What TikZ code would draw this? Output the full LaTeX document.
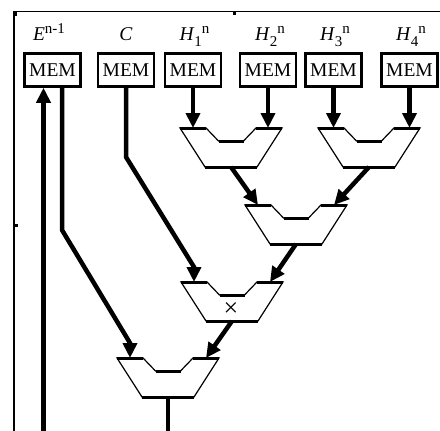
\documentclass[tikz,border=0pt]{standalone}
\usepackage{fontspec}
\setmainfont{Liberation Serif}
\usetikzlibrary{arrows.meta}
\usetikzlibrary{positioning}

\newcommand{\lbsub}[1]{\raisebox{-6pt}{\fontsize{15}{16}\selectfont #1}}
\newcommand{\lbsup}[1]{\raisebox{7pt}{\fontsize{15}{16}\selectfont #1}}

\tikzset{
  mem/.style={draw,line width=2.5pt,minimum width=56pt,minimum height=33pt,inner sep=0pt,font=\fontsize{19.5}{22}\selectfont},
  lbl/.style={anchor=base,inner sep=0pt,font=\fontsize{19.5}{22}\selectfont},
  arr/.style={line width=4.5pt,-{Triangle[length=15pt,width=14pt]}},
  wire/.style={line width=4.5pt},
  pics/adder/.style={code={
    \draw[line width=1.2pt] (-51,0) -- (-25,0) -- (-12.5,13) -- (12.5,13) -- (25,0) -- (51,0) -- (26,39) -- (-26,39) -- cycle;
    \draw[line width=3pt] (-51,0) -- (-25,0) (-12.5,13) -- (12.5,13) (25,0) -- (51,0) (-26,39) -- (26,39);
    \coordinate (-l) at (-38,0);
    \coordinate (-r) at (38,0);
    \coordinate (-t) at (0,0);
    \coordinate (-o) at (0,39);
  }}
}

\begin{document}
\begin{tikzpicture}[x=1pt,y=-1pt]
\useasboundingbox (0,0) rectangle (440,431);
% frame
\draw[line width=1.2pt] (14,431) -- (14,11.5) -- (440,11.5);
\fill (12.5,10.5) rectangle (16.5,15.5);
\fill (232.5,11.5) rectangle (235.5,15);
\fill (14,223.5) rectangle (17.5,226.5);

\node[mem] (mE) at (52.5,70) {MEM};
\node[mem] (mC) at (126,70) {MEM};
\node[mem] (mH1) at (193,70) {MEM};
\node[mem] (mH2) at (268,70) {MEM};
\node[mem] (mH3) at (333.5,70) {MEM};
\node[mem] (mH4) at (409.5,70) {MEM};

\node[lbl] (lE) at (49,40) {\textit{E}\lbsup{n-1}};
\node[lbl] (lC) at (126,40) {\textit{C}};
\node[lbl] (lH1) at (194.5,40) {\textit{H}\lbsub{1}\lbsup{n}};
\node[lbl] (lH2) at (270,40) {\textit{H}\lbsub{2}\lbsup{n}};
\node[lbl] (lH3) at (335,40) {\textit{H}\lbsub{3}\lbsup{n}};
\node[lbl] (lH4) at (411,40) {\textit{H}\lbsub{4}\lbsup{n}};

\pic (a1) at (231,128) {adder};
\pic (a2) at (369,128) {adder};
\pic (a3) at (296,205) {adder};
\pic (mul) at (232,282) {adder};
\pic (a4) at (168,358) {adder};
\node[inner sep=0pt,font=\fontsize{26}{28}\selectfont] (mulx) at (231,310) {×};

\coordinate (ein) at (43.5,431);
\coordinate (aout) at (168,431);

\draw[arr] (mH1) -- (mH1 |- a1-t);
\draw[arr] (mH2) -- (mH2 |- a1-t);
\draw[arr] (mH3) -- (mH3 |- a2-t);
\draw[arr] (mH4) -- (mH4 |- a2-t);
\draw[arr] (a1-o) -- (a3-l);
\draw[arr] (a2-o) -- (a3-r);
\draw[arr] (a3-o) -- (mul-r);
\draw[arr] (mul-o) -- (a4-r);
\draw[arr] (mC) -- (126,157) -- ([yshift=15pt]mul-l) -- (mul-l);
\draw[arr] ([xshift=9.5pt]mE.south) -- (62,230) -- ([yshift=15pt]a4-l) -- (a4-l);
\draw[arr] (ein) -- (ein |- mE.south);
\draw[wire] (a4-o) -- (aout);
\end{tikzpicture}
\end{document}
